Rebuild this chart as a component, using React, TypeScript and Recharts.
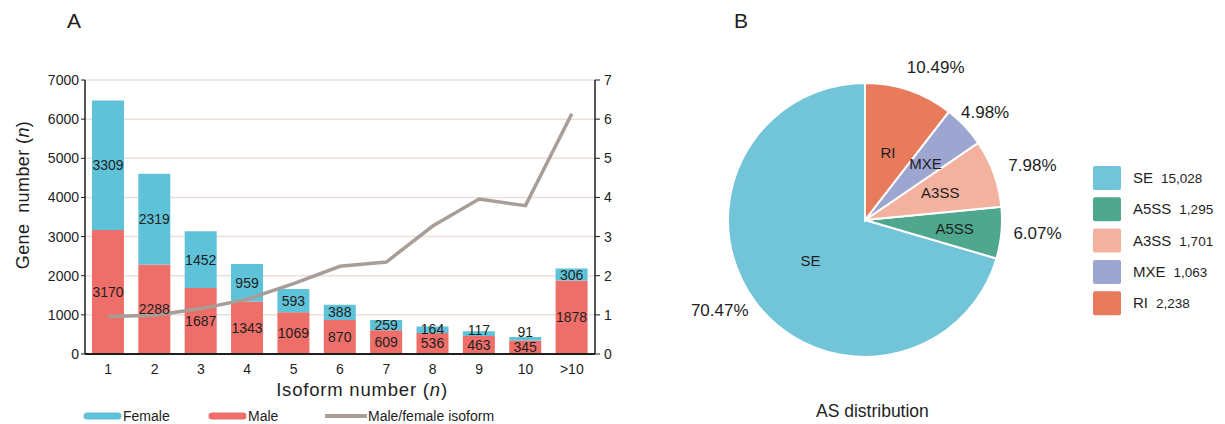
import React from 'react';
import {
  ComposedChart, Bar, Line, XAxis, YAxis, CartesianGrid, LabelList, Legend, Label,
  PieChart, Pie, Cell,
} from 'recharts';

const FONT = '"Liberation Sans", Arial, Helvetica, sans-serif';

// Panel A data
const categories = ['1', '2', '3', '4', '5', '6', '7', '8', '9', '10', '>10'];
const maleValues = [3170, 2288, 1687, 1343, 1069, 870, 609, 536, 463, 345, 1878];
const femaleValues = [3309, 2319, 1452, 959, 593, 388, 259, 164, 117, 91, 306];
const ratioValues = [0.96, 0.99, 1.16, 1.4, 1.8, 2.24, 2.35, 3.27, 3.96, 3.79, 6.14];
const leftTicks = [0, 1000, 2000, 3000, 4000, 5000, 6000, 7000];
const rightTicks = [0, 1, 2, 3, 4, 5, 6, 7];

// Panel B data
const asTypes = ['SE', 'A5SS', 'A3SS', 'MXE', 'RI'];
const asCounts = [15028, 1295, 1701, 1063, 2238];
const asCountLabels = ['15,028', '1,295', '1,701', '1,063', '2,238'];
const asPercentLabels = ['70.47%', '6.07%', '7.98%', '4.98%', '10.49%'];
const asColors = ['#72c4d9', '#4fa88d', '#f3b29f', '#9da5d1', '#e97b5d'];

// label placement tweaks (style only): inner radius, outer radius, outer angle shift
const innerR = [68, 90, 80, 83, 71];
const outerR = [171, 173, 176, 161, 168];
const outerShift = [-5, 1, -2, -1.5, -6];

const FEMALE = '#5ec2d8';
const MALE = '#ee6e69';
const RATIO = '#a89e97';
const INK = '#1e1e1e';

const barData = categories.map((c, i) => ({
  cat: c,
  male: maleValues[i],
  female: femaleValues[i],
  ratio: ratioValues[i],
}));

const pieData = asTypes.map((t, i) => ({
  name: t,
  value: asCounts[i],
  countLabel: asCountLabels[i],
  pct: asPercentLabels[i],
}));

const RAD = Math.PI / 180;

const renderPieLabel = (props: any) => {
  const { cx, cy, midAngle, index } = props;
  const ri = innerR[index];
  const ro = outerR[index];
  const ao = midAngle + outerShift[index];
  const xi = cx + ri * Math.cos(-midAngle * RAD);
  const yi = cy + ri * Math.sin(-midAngle * RAD);
  const xo = cx + ro * Math.cos(-ao * RAD);
  const yo = cy + ro * Math.sin(-ao * RAD);
  return (
    <g key={`lbl-${index}`}>
      <text x={xi} y={yi} textAnchor="middle" dominantBaseline="central" fontSize={15} fill={INK} fontFamily={FONT}>
        {pieData[index].name}
      </text>
      <text x={xo} y={yo} textAnchor="middle" dominantBaseline="central" fontSize={17} fill={INK} fontFamily={FONT}>
        {pieData[index].pct}
      </text>
    </g>
  );
};

// female label: centred in its segment, but kept clear of the male label on short bars
const FemaleLabel = (props: any) => {
  const { x, y, width, height, value, index } = props;
  const h = Math.abs(height);
  const top = Math.min(y, y + height);
  const cy = top + h / 2;
  const ppu = h / (femaleValues[index] || 1);
  const maleH = maleValues[index] * ppu;
  const maleCy = top + h + maleH / 2;
  const ly = Math.min(cy, maleCy - 15);
  return (
    <text x={x + width / 2} y={ly} textAnchor="middle" dominantBaseline="central" fontSize={14} fill={INK} fontFamily={FONT}>
      {value}
    </text>
  );
};

const BarLegend = () => (
  <svg width={420} height={20} style={{ display: 'block' }}>
    <line x1={6} y1={10} x2={37} y2={10} stroke={FEMALE} strokeWidth={7} strokeLinecap="round" />
    <text x={42} y={15} fontSize={14} fill={INK} fontFamily={FONT}>Female</text>
    <line x1={131} y1={10} x2={162} y2={10} stroke={MALE} strokeWidth={7} strokeLinecap="round" />
    <text x={167} y={15} fontSize={14} fill={INK} fontFamily={FONT}>Male</text>
    <line x1={244} y1={10} x2={286} y2={10} stroke={RATIO} strokeWidth={4} />
    <text x={287} y={15} fontSize={14} fill={INK} fontFamily={FONT}>Male/female isoform</text>
  </svg>
);

const PieLegend = () => (
  <svg width={150} height={160} style={{ display: 'block' }}>
    {pieData.map((d, i) => (
      <g key={d.name}>
        <rect x={0} y={4 + i * 31.3} width={28} height={24} fill={asColors[i]} rx={2} />
        <text x={40} y={21 + i * 31.3} fontSize={15} fill={INK} fontFamily={FONT}>
          {d.name}
          <tspan dx={8} fontSize={13.5}>{d.countLabel}</tspan>
        </text>
      </g>
    ))}
  </svg>
);

export default function App() {
  return (
    <div style={{ position: 'absolute', left: 0, top: 0, width: 1225, height: 424, background: '#fff', overflow: 'hidden', fontFamily: FONT }}>
      <div style={{ position: 'absolute', left: 67, top: 9, fontSize: 21, color: INK }}>A</div>
      <div style={{ position: 'absolute', left: 734, top: 9, fontSize: 21, color: INK }}>B</div>

      <div style={{ position: 'absolute', left: 0, top: 0 }}>
        <ComposedChart
          width={640}
          height={424}
          data={barData}
          margin={{ top: 80, right: 0, bottom: 40, left: 0 }}
          barCategoryGap="15%"
          style={{ fontFamily: FONT }}
        >
          <CartesianGrid vertical={false} stroke="#ecdfda" strokeWidth={1.5} yAxisId="left" />
          <XAxis
            dataKey="cat"
            height={30}
            tickLine={false}
            axisLine={{ stroke: INK, strokeWidth: 2 }}
            tick={{ fill: INK, fontSize: 14 }}
            tickMargin={4}
            interval={0}
          >
            <Label
              content={() => (
                <text x={362} y={396} textAnchor="middle" fontSize={18.5} letterSpacing={0.8} fill={INK} fontFamily={FONT}>
                  Isoform number (<tspan fontStyle="italic">n</tspan>)
                </text>
              )}
            />
          </XAxis>
          <YAxis
            yAxisId="left"
            width={85}
            domain={[0, 7000]}
            ticks={leftTicks}
            interval={0}
            tickSize={4}
            tickMargin={2}
            axisLine={{ stroke: INK, strokeWidth: 1.5 }}
            tickLine={{ stroke: INK }}
            tick={{ fill: INK, fontSize: 14 }}
          >
            <Label
              content={() => (
                <text
                  x={23}
                  y={195}
                  transform="rotate(-90, 23, 195)"
                  textAnchor="middle"
                  dominantBaseline="central"
                  fontSize={18}
                  letterSpacing={0.4}
                  fill={INK}
                  fontFamily={FONT}
                  style={{ whiteSpace: 'pre' }}
                >
                  {'Gene  number ('}<tspan fontStyle="italic">n</tspan>)
                </text>
              )}
            />
          </YAxis>
          <YAxis
            yAxisId="right"
            orientation="right"
            width={45}
            domain={[0, 7]}
            ticks={rightTicks}
            interval={0}
            tickSize={5}
            tickMargin={4}
            axisLine={{ stroke: INK, strokeWidth: 1.5 }}
            tickLine={{ stroke: INK }}
            tick={{ fill: INK, fontSize: 14 }}
          />
          <Bar yAxisId="left" dataKey="male" stackId="g" fill={MALE} isAnimationActive={false}>
            <LabelList dataKey="male" position="center" fill={INK} fontSize={14} />
          </Bar>
          <Bar yAxisId="left" dataKey="female" stackId="g" fill={FEMALE} isAnimationActive={false}>
            <LabelList dataKey="female" content={<FemaleLabel />} />
          </Bar>
          <Line
            yAxisId="right"
            dataKey="ratio"
            type="linear"
            stroke={RATIO}
            strokeWidth={3.5}
            dot={false}
            activeDot={false}
            isAnimationActive={false}
          />
          <Legend
            layout="horizontal"
            align="center"
            verticalAlign="middle"
            content={() => <BarLegend />}
            wrapperStyle={{ left: 81, top: 406, width: 420, height: 20 }}
          />
        </ComposedChart>
      </div>

      <div style={{ position: 'absolute', left: 640, top: 0 }}>
        <PieChart width={585} height={424} margin={{ top: 0, right: 0, bottom: 0, left: 0 }}>
          <Pie
            data={pieData}
            dataKey="value"
            nameKey="name"
            cx={225}
            cy={220}
            outerRadius={137}
            startAngle={90}
            endAngle={450}
            stroke="#ffffff"
            strokeWidth={2}
            label={renderPieLabel}
            labelLine={false}
            isAnimationActive={false}
          >
            {pieData.map((d, i) => (
              <Cell key={d.name} fill={asColors[i]} />
            ))}
          </Pie>
          <Legend
            layout="vertical"
            align="center"
            verticalAlign="middle"
            content={() => <PieLegend />}
            wrapperStyle={{ left: 453, top: 162, width: 150, height: 160 }}
          />
        </PieChart>
      </div>

      <div style={{ position: 'absolute', left: 816, top: 401, fontSize: 17.5, color: INK, whiteSpace: 'nowrap' }}>
        AS distribution
      </div>
    </div>
  );
}
